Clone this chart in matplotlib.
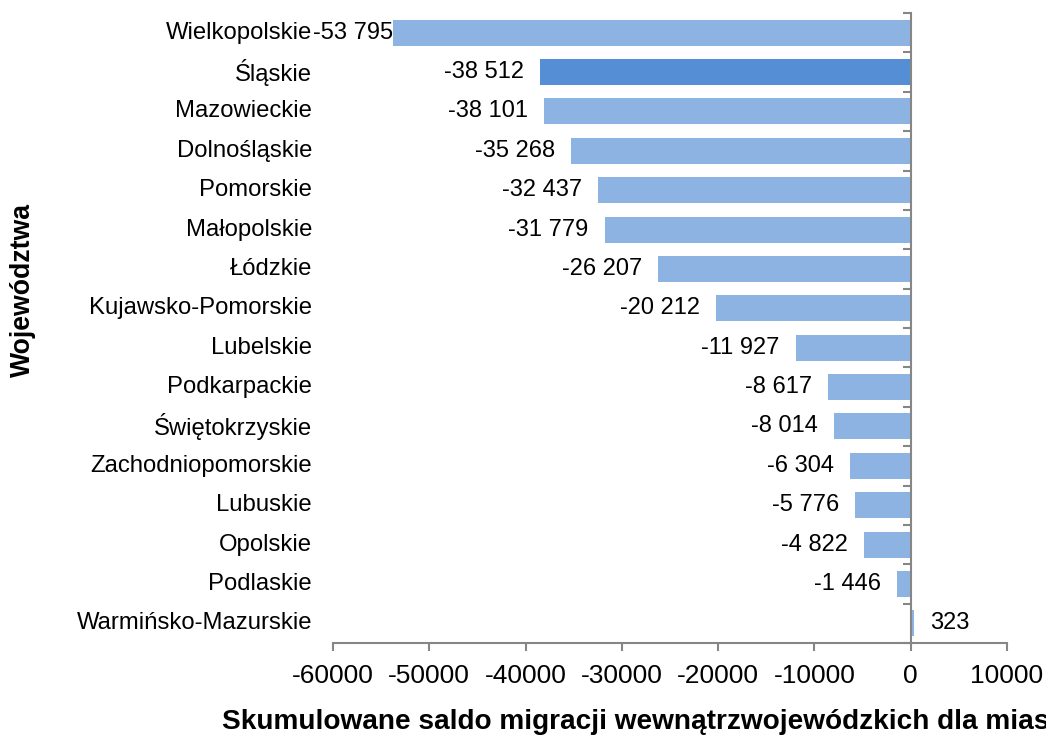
import matplotlib
matplotlib.use("Agg")
import matplotlib.pyplot as plt
import numpy as np

categories = ["Wielkopolskie", "Śląskie", "Mazowieckie", "Dolnośląskie", "Pomorskie",
              "Małopolskie", "Łódzkie", "Kujawsko-Pomorskie", "Lubelskie", "Podkarpackie",
              "Świętokrzyskie", "Zachodniopomorskie", "Lubuskie", "Opolskie", "Podlaskie",
              "Warmińsko-Mazurskie"]
values = [-53795, -38512, -38101, -35268, -32437, -31779, -26207, -20212, -11927,
          -8617, -8014, -6304, -5776, -4822, -1446, 323]
highlight = "Śląskie"
xticks = [-60000, -50000, -40000, -30000, -20000, -10000, 0, 10000]
xlabel = "Skumulowane saldo migracji wewnątrzwojewódzkich dla miast"
ylabel = "Województwa"

plt.rcParams['font.family'] = ['Liberation Sans', 'DejaVu Sans']

fig = plt.figure(figsize=(10.46, 7.55), dpi=100)
ax = fig.add_axes([333/1046, 1-643/755, (1007-333)/1046, (643-13)/755])

light = '#8DB3E2'
dark = '#558ED5'
gray = '#868686'

y = np.arange(len(categories))
colors = [dark if c == highlight else light for c in categories]
ax.barh(y, values, height=0.66, color=colors, zorder=2)

ax.set_xlim(xticks[0], xticks[-1])
ax.set_ylim(len(categories) - 0.5, -0.5)

for s in ['top', 'right']:
    ax.spines[s].set_visible(False)
ax.spines['left'].set_position(('data', 0))
ax.spines['left'].set_color(gray)
ax.spines['left'].set_linewidth(1.5)
ax.spines['bottom'].set_color(gray)
ax.spines['bottom'].set_linewidth(1.5)
ax.spines['left'].set_zorder(3)

ax.set_yticks(np.arange(len(categories) + 1) - 0.5)
ax.set_yticklabels([])
ax.tick_params(axis='y', direction='out', length=6, width=1.5, color=gray)
ax.set_xticks(xticks)
ax.set_xticklabels([str(t) for t in xticks], fontsize=19)
ax.tick_params(axis='x', direction='out', length=6, width=1.5, color=gray, pad=9)

for i, c in enumerate(categories):
    ax.annotate(c, xy=(0, i), xycoords=('axes fraction', 'data'), xytext=(-21, 0),
                textcoords='offset pixels', ha='right', va='center', fontsize=17.2)

for i, v in enumerate(values):
    txt = f"{v:,}".replace(',', ' ')
    if v < 0:
        pad = 0 if v < -50000 else -16
        ha = 'right'
    else:
        pad = 16
        ha = 'left'
    ax.annotate(txt, xy=(v, i), xytext=(pad, 0), textcoords='offset pixels',
                ha=ha, va='center', fontsize=17)

fig.text(222/1046, 1-722/755, xlabel, ha='left', va='center', fontsize=20.2, fontweight='bold')
fig.text(23/1046, 1-290/755, ylabel, ha='center', va='center', rotation=90,
         fontsize=19.2, fontweight='bold')

fig.savefig("out.png", dpi=100)
